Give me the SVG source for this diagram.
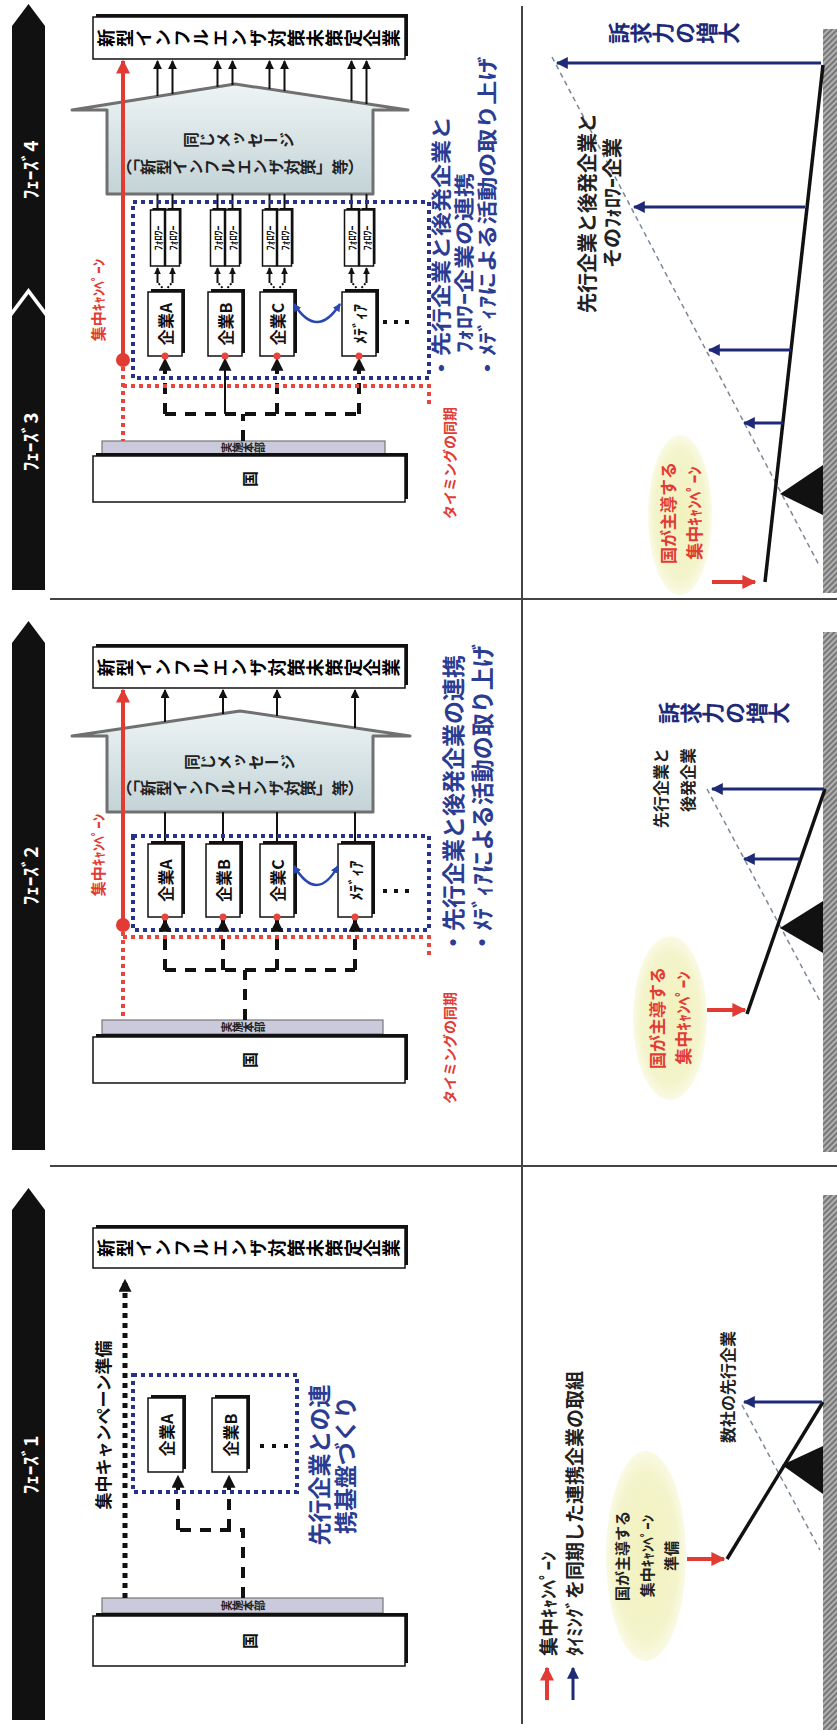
<svg xmlns="http://www.w3.org/2000/svg" width="837" height="1730" viewBox="0 0 837 1730">
<defs>
<style>
text{font-family:"Noto Sans CJK JP","Noto Sans CJK SC",sans-serif;font-weight:700;}
.c{text-anchor:middle;dominant-baseline:central;}
.s{text-anchor:start;dominant-baseline:central;}
.e{text-anchor:end;dominant-baseline:central;}
.v{writing-mode:vertical-rl;text-anchor:middle;}
.ph{fill:#fff;font-size:19px;}
.box{fill:#fff;stroke:#111;stroke-width:1.5;}
.sh{fill:#111;}
.dash{fill:none;stroke:#111;stroke-width:4;stroke-dasharray:11 9;}
.bdot{fill:none;stroke:#27338a;stroke-width:4;stroke-dasharray:4 4;}
.rdot{fill:none;stroke:#e8463d;stroke-width:4;stroke-dasharray:4 4;}
.kdot{fill:none;stroke:#111;stroke-width:5;stroke-dasharray:5 5;}
.ln{stroke:#111;stroke-width:2;fill:none;}
.lever{stroke:#111;stroke-width:3.5;fill:none;}
.gd{stroke:#7b8799;stroke-width:1.5;stroke-dasharray:5 4;fill:none;}
.barr{stroke:#1e2a78;stroke-width:3;fill:none;}
.rarr{stroke:#e23b33;stroke-width:4;fill:none;}
.sep{stroke:#444;stroke-width:2;fill:none;}
.roof{fill:url(#roofg);stroke:#707070;stroke-width:3;stroke-linejoin:round;}
.hq{fill:#cacadc;stroke:#777;stroke-width:1.2;}
.ell{fill:url(#ellg);}
.fol{font-size:10px;fill:#111;}
.co{font-size:16px;fill:#111;}
.blue{fill:#2b3c93;}
.red{fill:#e23b33;}
.navy{fill:#1e2a78;}
.dk{fill:#222;}
</style>
<linearGradient id="roofg" x1="0" y1="0" x2="0" y2="1"><stop offset="0" stop-color="#eef4f5"/><stop offset="1" stop-color="#c3d3d6"/></linearGradient>
<radialGradient id="ellg"><stop offset="0" stop-color="#f1f1bd"/><stop offset="0.8" stop-color="#f4f4cc"/><stop offset="1" stop-color="#fafae6"/></radialGradient>
<pattern id="hatch" width="4" height="4" patternUnits="userSpaceOnUse" patternTransform="rotate(45)"><rect width="4" height="4" fill="#b0b0b0"/><rect width="2" height="4" fill="#777"/></pattern>
<marker id="ab" viewBox="0 0 10 10" refX="9" refY="5" markerWidth="9" markerHeight="9" markerUnits="userSpaceOnUse" orient="auto"><path d="M0,0L10,5L0,10z" fill="#111"/></marker>
<marker id="abs" viewBox="0 0 10 10" refX="9" refY="5" markerWidth="7" markerHeight="7" markerUnits="userSpaceOnUse" orient="auto"><path d="M0,0L10,5L0,10z" fill="#111"/></marker>
<marker id="ak" viewBox="0 0 10 10" refX="9" refY="5" markerWidth="13" markerHeight="13" markerUnits="userSpaceOnUse" orient="auto"><path d="M0,0L10,5L0,10z" fill="#111"/></marker>
<marker id="rr" viewBox="0 0 10 10" refX="9" refY="5" markerWidth="14" markerHeight="14" markerUnits="userSpaceOnUse" orient="auto"><path d="M0,0L10,5L0,10z" fill="#e23b33"/></marker>
<marker id="bb" viewBox="0 0 10 10" refX="9" refY="5" markerWidth="12" markerHeight="12" markerUnits="userSpaceOnUse" orient="auto"><path d="M0,0L10,5L0,10z" fill="#1e2a78"/></marker>
<marker id="bc" viewBox="0 0 10 10" refX="9" refY="5" markerWidth="8" markerHeight="8" markerUnits="userSpaceOnUse" orient="auto-start-reverse"><path d="M0,0L10,5L0,10z" fill="#2848b0"/></marker>
</defs>
<rect width="837" height="1730" fill="#fff"/>

<g id="phase-bars">
<polygon points="28.5,4 45,26 45,310 28.5,288 12,310 12,26" fill="#111"/>
<polygon points="28.5,294 45,316 45,590 12,590 12,316" fill="#111"/>
<polygon points="28.5,621 45,643 45,1150 12,1150 12,643" fill="#111"/>
<polygon points="28.5,1188 45,1210 45,1720 12,1720 12,1210" fill="#111"/>
<text class="c ph" transform="translate(29,170) rotate(-90)">ﾌｪｰｽﾞ4</text>
<text class="c ph" transform="translate(29,442) rotate(-90)">ﾌｪｰｽﾞ3</text>
<text class="c ph" transform="translate(29,876) rotate(-90)">ﾌｪｰｽﾞ2</text>
<text class="c ph" transform="translate(29,1465) rotate(-90)">ﾌｪｰｽﾞ1</text>
</g>

<g id="grid">
<path class="sep" d="M50,599H837 M50,1166H837 M522,6V1724"/>
<rect x="823" y="29" width="14" height="564" fill="url(#hatch)"/>
<rect x="823" y="632" width="14" height="520" fill="url(#hatch)"/>
<rect x="823" y="1195" width="14" height="535" fill="url(#hatch)"/>
</g>

<!-- ===== Phase 3-4 organisation ===== -->
<g id="p34-target">
<rect class="sh" x="96" y="14" width="312" height="42"/>
<rect class="box" x="93" y="17" width="312" height="42"/>
<text class="v" transform="translate(249,38) rotate(-90)" font-size="18" letter-spacing="1">新型インフルエンザ対策未策定企業</text>
</g>
<g id="p34-message">
<polygon class="roof" points="72,110 235,84 408,110 373,110 373,194 107,194 107,110"/>
<text class="v dk" transform="translate(239,140) rotate(-90)" font-size="16">同じメッセージ</text>
<text class="v dk" transform="translate(240,167) rotate(-90)" font-size="16">（「新型インフルエンザ対策」等）</text>
</g>
<g id="p34-followers">
<rect class="sh" x="152.5" y="208" width="14" height="56"/><rect class="box" x="150.5" y="210" width="14" height="56"/>
<rect class="sh" x="167.5" y="208" width="14" height="56"/><rect class="box" x="165.5" y="210" width="14" height="56"/>
<rect class="sh" x="212.5" y="208" width="14" height="56"/><rect class="box" x="210.5" y="210" width="14" height="56"/>
<rect class="sh" x="227.5" y="208" width="14" height="56"/><rect class="box" x="225.5" y="210" width="14" height="56"/>
<rect class="sh" x="264.5" y="208" width="14" height="56"/><rect class="box" x="262.5" y="210" width="14" height="56"/>
<rect class="sh" x="279.5" y="208" width="14" height="56"/><rect class="box" x="277.5" y="210" width="14" height="56"/>
<rect class="sh" x="346.5" y="208" width="14" height="56"/><rect class="box" x="344.5" y="210" width="14" height="56"/>
<rect class="sh" x="361.5" y="208" width="14" height="56"/><rect class="box" x="359.5" y="210" width="14" height="56"/>
<text class="c fol" transform="translate(157.5,238) rotate(-90)">ﾌｫﾛﾜｰ</text>
<text class="c fol" transform="translate(172.5,238) rotate(-90)">ﾌｫﾛﾜｰ</text>
<text class="c fol" transform="translate(217.5,238) rotate(-90)">ﾌｫﾛﾜｰ</text>
<text class="c fol" transform="translate(232.5,238) rotate(-90)">ﾌｫﾛﾜｰ</text>
<text class="c fol" transform="translate(269.5,238) rotate(-90)">ﾌｫﾛﾜｰ</text>
<text class="c fol" transform="translate(284.5,238) rotate(-90)">ﾌｫﾛﾜｰ</text>
<text class="c fol" transform="translate(351.5,238) rotate(-90)">ﾌｫﾛﾜｰ</text>
<text class="c fol" transform="translate(366.5,238) rotate(-90)">ﾌｫﾛﾜｰ</text>
</g>
<g id="p34-companies">
<rect class="sh" x="151" y="289" width="34" height="64"/><rect class="box" x="148" y="292" width="34" height="64"/>
<rect class="sh" x="211" y="289" width="34" height="64"/><rect class="box" x="208" y="292" width="34" height="64"/>
<rect class="sh" x="263" y="289" width="34" height="64"/><rect class="box" x="260" y="292" width="34" height="64"/>
<rect class="sh" x="345" y="289" width="34" height="64"/><rect class="box" x="342" y="292" width="34" height="64"/>
<text class="c co" transform="translate(165,324) rotate(-90)">企業A</text>
<text class="c co" transform="translate(225,324) rotate(-90)">企業B</text>
<text class="c co" transform="translate(277,324) rotate(-90)">企業C</text>
<text class="c co" transform="translate(359,324) rotate(-90)">ﾒﾃﾞｨｱ</text>
<rect x="383" y="320" width="4" height="4" fill="#111"/><rect x="394" y="320" width="4" height="4" fill="#111"/><rect x="405" y="320" width="4" height="4" fill="#111"/>
</g>
<g id="p34-hq">
<rect class="hq" x="102" y="441" width="283" height="13"/>
<text class="v dk" transform="translate(243,447.5) rotate(-90)" font-size="11">実施本部</text>
<rect class="sh" x="96" y="453" width="312" height="46"/>
<rect class="box" x="93" y="456" width="312" height="46"/>
<text class="c" transform="translate(249,479) rotate(-90)" font-size="16" fill="#111">国</text>
</g>
<g id="p34-connectors">
<path class="ln" d="M157.5,96V61" marker-end="url(#ab)"/>
<path class="ln" d="M172.5,94V61" marker-end="url(#ab)"/>
<path class="ln" d="M217.5,87V61" marker-end="url(#ab)"/>
<path class="ln" d="M232.5,85V61" marker-end="url(#ab)"/>
<path class="ln" d="M269.5,89V61" marker-end="url(#ab)"/>
<path class="ln" d="M284.5,91V61" marker-end="url(#ab)"/>
<path class="ln" d="M351.5,101V61" marker-end="url(#ab)"/>
<path class="ln" d="M366.5,104V61" marker-end="url(#ab)"/>
<path class="ln" d="M157.5,194V210 M172.5,194V210 M217.5,194V210 M232.5,194V210 M269.5,194V210 M284.5,194V210 M351.5,194V210 M366.5,194V210"/>
<path class="ln" stroke-dasharray="2 2" d="M165,291L157.5,282 M165,291L172.5,282 M225,291L217.5,282 M225,291L232.5,282 M277,291L269.5,282 M277,291L284.5,282 M359,291L351.5,282 M359,291L366.5,282"/>
<path class="ln" d="M157.5,283V268" marker-end="url(#abs)"/>
<path class="ln" d="M172.5,283V268" marker-end="url(#abs)"/>
<path class="ln" d="M217.5,283V268" marker-end="url(#abs)"/>
<path class="ln" d="M232.5,283V268" marker-end="url(#abs)"/>
<path class="ln" d="M269.5,283V268" marker-end="url(#abs)"/>
<path class="ln" d="M284.5,283V268" marker-end="url(#abs)"/>
<path class="ln" d="M351.5,283V268" marker-end="url(#abs)"/>
<path class="ln" d="M366.5,283V268" marker-end="url(#abs)"/>
<path d="M294,304 Q317,340 340,304" fill="none" stroke="#2848b0" stroke-width="2.5" marker-start="url(#bc)" marker-end="url(#bc)"/>
<rect class="bdot" x="133" y="202" width="296" height="176"/>
<path class="dash" d="M243,441V414 M165,414H359"/>
<path class="dash" d="M165,414V359" marker-end="url(#ak)"/>
<path class="ln" stroke-width="4" d="M225,414V359" marker-end="url(#ak)"/>
<path class="dash" d="M277,414V359" marker-end="url(#ak)"/>
<path class="dash" d="M359,414V359" marker-end="url(#ak)"/>
<path class="rdot" d="M123,367V441 M123,386H429V408"/>
<path class="rarr" d="M123,360V61" marker-end="url(#rr)"/>
<circle cx="123" cy="360" r="7" fill="#e23b33"/>
<circle cx="165" cy="356" r="3.5" fill="#e8463d"/><circle cx="225" cy="356" r="3.5" fill="#e8463d"/><circle cx="277" cy="356" r="3.5" fill="#e8463d"/><circle cx="359" cy="356" r="3.5" fill="#e8463d"/>
</g>
<g id="p34-labels">
<text class="c red" transform="translate(97,300) rotate(-90)" font-size="15">集中ｷｬﾝﾍﾟｰﾝ</text>
<text class="s blue" transform="translate(440,380) rotate(-90) scale(1,0.85)" font-size="24">・先行企業と後発企業と</text>
<text class="s blue" transform="translate(463,353) rotate(-90) scale(1,0.85)" font-size="24">ﾌｫﾛﾜｰ企業の連携</text>
<text class="s blue" transform="translate(486,380) rotate(-90) scale(1,0.85)" font-size="24">・ﾒﾃﾞｨｱによる活動の取り上げ</text>
<text class="c red" transform="translate(449,463) rotate(-90)" font-size="14">タイミングの同期</text>
</g>

<!-- ===== Phase 3-4 chart ===== -->
<g id="p34-chart">
<ellipse class="ell" cx="680" cy="515" rx="32" ry="80"/>
<text class="c red" transform="translate(667,513) rotate(-90)" font-size="17">国が主導する</text>
<text class="c red" transform="translate(693,513) rotate(-90)" font-size="17">集中ｷｬﾝﾍﾟｰﾝ</text>
<path class="rarr" stroke-width="3" d="M712,582H755" marker-end="url(#rr)"/>
<path class="gd" d="M552,57L820,567"/>
<polygon points="780,494 823,465 823,515" fill="#111"/>
<path class="lever" d="M765,582L823,65"/>
<path class="barr" d="M821,63H557" marker-end="url(#bb)"/>
<path class="barr" d="M805,207H634" marker-end="url(#bb)"/>
<path class="barr" d="M791,350H709" marker-end="url(#bb)"/>
<path class="barr" d="M783,423H744" marker-end="url(#bb)"/>
<text class="v navy" transform="translate(674,33) rotate(-90)" font-size="22">訴求力の増大</text>
<text class="c dk" transform="translate(586,213) rotate(-90)" font-size="20">先行企業と後発企業と</text>
<text class="c dk" transform="translate(611,203) rotate(-90)" font-size="20">そのﾌｫﾛﾜｰ企業</text>
</g>

<!-- ===== Phase 2 organisation ===== -->
<g id="p2-target">
<rect class="sh" x="96" y="644" width="312" height="41"/>
<rect class="box" x="93" y="647" width="312" height="41"/>
<text class="v" transform="translate(249,667.5) rotate(-90)" font-size="18" letter-spacing="1">新型インフルエンザ対策未策定企業</text>
</g>
<g id="p2-message">
<polygon class="roof" points="72,736 240,711 410,736 373,736 373,812 107,812 107,736"/>
<text class="v dk" transform="translate(240,762) rotate(-90)" font-size="16">同じメッセージ</text>
<text class="v dk" transform="translate(240,788) rotate(-90)" font-size="16">（「新型インフルエンザ対策」等）</text>
</g>
<g id="p2-companies">
<rect class="sh" x="151" y="841" width="34" height="73"/><rect class="box" x="148" y="844" width="34" height="73"/>
<rect class="sh" x="209" y="841" width="34" height="73"/><rect class="box" x="206" y="844" width="34" height="73"/>
<rect class="sh" x="263" y="841" width="34" height="73"/><rect class="box" x="260" y="844" width="34" height="73"/>
<rect class="sh" x="341" y="841" width="34" height="73"/><rect class="box" x="338" y="844" width="34" height="73"/>
<text class="c co" transform="translate(165,880.5) rotate(-90)">企業A</text>
<text class="c co" transform="translate(223,880.5) rotate(-90)">企業B</text>
<text class="c co" transform="translate(277,880.5) rotate(-90)">企業C</text>
<text class="c co" transform="translate(355,880.5) rotate(-90)">ﾒﾃﾞｨｱ</text>
<rect x="383" y="889" width="4" height="4" fill="#111"/><rect x="394" y="889" width="4" height="4" fill="#111"/><rect x="405" y="889" width="4" height="4" fill="#111"/>
</g>
<g id="p2-hq">
<rect class="hq" x="102" y="1020" width="281" height="14"/>
<text class="v dk" transform="translate(243,1027) rotate(-90)" font-size="11">実施本部</text>
<rect class="sh" x="96" y="1034" width="312" height="46"/>
<rect class="box" x="93" y="1037" width="312" height="46"/>
<text class="c" transform="translate(249,1060) rotate(-90)" font-size="16" fill="#111">国</text>
</g>
<g id="p2-connectors">
<path class="ln" d="M165,722V690" marker-end="url(#ab)"/>
<path class="ln" d="M223,714V690" marker-end="url(#ab)"/>
<path class="ln" d="M277,716V690" marker-end="url(#ab)"/>
<path class="ln" d="M355,728V690" marker-end="url(#ab)"/>
<path class="ln" stroke-width="2.5" d="M165,812V844 M223,812V844 M277,812V844 M355,812V844"/>
<path d="M294,866 Q317,904 338,866" fill="none" stroke="#2848b0" stroke-width="2.5" marker-start="url(#bc)" marker-end="url(#bc)"/>
<rect class="bdot" x="133" y="836" width="296" height="94"/>
<path class="dash" d="M245,1020V970 M165,970H355"/>
<path class="dash" d="M165,970V920" marker-end="url(#ak)"/>
<path class="dash" d="M223,970V920" marker-end="url(#ak)"/>
<path class="dash" d="M277,970V920" marker-end="url(#ak)"/>
<path class="dash" d="M355,970V920" marker-end="url(#ak)"/>
<path class="rdot" d="M123,932V1020 M123,937H429V958"/>
<path class="rarr" d="M123,925V690" marker-end="url(#rr)"/>
<circle cx="123" cy="925" r="7" fill="#e23b33"/>
<circle cx="165" cy="917" r="3.5" fill="#e8463d"/><circle cx="223" cy="917" r="3.5" fill="#e8463d"/><circle cx="277" cy="917" r="3.5" fill="#e8463d"/><circle cx="355" cy="917" r="3.5" fill="#e8463d"/>
</g>
<g id="p2-labels">
<text class="c red" transform="translate(97,855) rotate(-90)" font-size="15">集中ｷｬﾝﾍﾟｰﾝ</text>
<text class="s blue" transform="translate(452,954) rotate(-90)" font-size="23">・先行企業と後発企業の連携</text>
<text class="s blue" transform="translate(481,954) rotate(-90)" font-size="23">・ﾒﾃﾞｨｱによる活動の取り上げ</text>
<text class="c red" transform="translate(449,1048) rotate(-90)" font-size="14">タイミングの同期</text>
</g>

<!-- ===== Phase 2 chart ===== -->
<g id="p2-chart">
<ellipse class="ell" cx="670" cy="1018" rx="37" ry="82"/>
<text class="c red" transform="translate(656,1018) rotate(-90)" font-size="17">国が主導する</text>
<text class="c red" transform="translate(682,1018) rotate(-90)" font-size="17">集中ｷｬﾝﾍﾟｰﾝ</text>
<path class="rarr" stroke-width="3" d="M707,1010H745" marker-end="url(#rr)"/>
<path class="gd" d="M707,789L820,1001"/>
<polygon points="780,928 823,901 823,953" fill="#111"/>
<path class="lever" d="M747,1014L825,789"/>
<path class="barr" d="M824,789H712" marker-end="url(#bb)"/>
<path class="barr" d="M800,859H744" marker-end="url(#bb)"/>
<text class="v navy" transform="translate(724,713) rotate(-90)" font-size="22">訴求力の増大</text>
<text class="e dk" transform="translate(660,748) rotate(-90)" font-size="16">先行企業と</text>
<text class="e dk" transform="translate(687,748) rotate(-90)" font-size="16">後発企業</text>
</g>

<!-- ===== Phase 1 organisation ===== -->
<g id="p1-target">
<rect class="sh" x="96" y="1225" width="312" height="40"/>
<rect class="box" x="93" y="1228" width="312" height="40"/>
<text class="v" transform="translate(249,1248) rotate(-90)" font-size="18" letter-spacing="1">新型インフルエンザ対策未策定企業</text>
</g>
<g id="p1-companies">
<rect class="sh" x="151" y="1395" width="35" height="74"/><rect class="box" x="148" y="1398" width="35" height="74"/>
<rect class="sh" x="215" y="1395" width="35" height="74"/><rect class="box" x="212" y="1398" width="35" height="74"/>
<text class="c co" transform="translate(165.5,1435) rotate(-90)">企業A</text>
<text class="c co" transform="translate(229.5,1435) rotate(-90)">企業B</text>
<rect x="260" y="1444" width="4" height="4" fill="#111"/><rect x="272" y="1444" width="4" height="4" fill="#111"/><rect x="284" y="1444" width="4" height="4" fill="#111"/>
</g>
<g id="p1-hq">
<rect class="hq" x="102" y="1598" width="281" height="15"/>
<text class="v dk" transform="translate(243,1605.5) rotate(-90)" font-size="11">実施本部</text>
<rect class="sh" x="96" y="1613" width="312" height="50"/>
<rect class="box" x="93" y="1616" width="312" height="50"/>
<text class="c" transform="translate(249,1641) rotate(-90)" font-size="16" fill="#111">国</text>
</g>
<g id="p1-connectors">
<path class="kdot" d="M125,1598V1280" marker-end="url(#ak)"/>
<rect class="bdot" x="133" y="1375" width="164" height="117"/>
<path class="dash" d="M243,1598V1530H178"/>
<path class="dash" d="M178,1530V1476" marker-end="url(#ak)"/>
<path class="dash" d="M229,1530V1476" marker-end="url(#ak)"/>
</g>
<g id="p1-labels">
<text class="c" transform="translate(102,1425) rotate(-90)" font-size="17" fill="#111">集中キャンペーン準備</text>
<text class="c blue" transform="translate(318,1465) rotate(-90)" font-size="23">先行企業との連</text>
<text class="c blue" transform="translate(344,1465) rotate(-90)" font-size="23">携基盤づくり</text>
</g>

<!-- ===== Phase 1 chart ===== -->
<g id="p1-chart">
<ellipse class="ell" cx="646" cy="1556" rx="40" ry="105"/>
<text class="c dk" transform="translate(621,1556) rotate(-90)" font-size="15">国が主導する</text>
<text class="c dk" transform="translate(646,1556) rotate(-90)" font-size="15">集中ｷｬﾝﾍﾟｰﾝ</text>
<text class="c dk" transform="translate(670,1556) rotate(-90)" font-size="15">準備</text>
<path class="rarr" stroke-width="3" d="M687,1559H724" marker-end="url(#rr)"/>
<path class="gd" d="M742,1405L820,1550"/>
<polygon points="782,1465 823,1446 823,1494" fill="#111"/>
<path class="lever" d="M727,1559L823,1402"/>
<path class="barr" d="M822,1402H744" marker-end="url(#bb)"/>
<text class="c dk" transform="translate(727,1387) rotate(-90)" font-size="16">数社の先行企業</text>
</g>

<g id="legend">
<path class="rarr" stroke-width="3" d="M547,1700V1668" marker-end="url(#rr)"/>
<path class="barr" d="M573,1700V1668" marker-end="url(#bb)"/>
<text class="s dk" transform="translate(547,1656) rotate(-90)" font-size="19">集中ｷｬﾝﾍﾟｰﾝ</text>
<text class="s dk" transform="translate(573,1656) rotate(-90)" font-size="19">ﾀｲﾐﾝｸﾞを同期した連携企業の取組</text>
</g>
</svg>
